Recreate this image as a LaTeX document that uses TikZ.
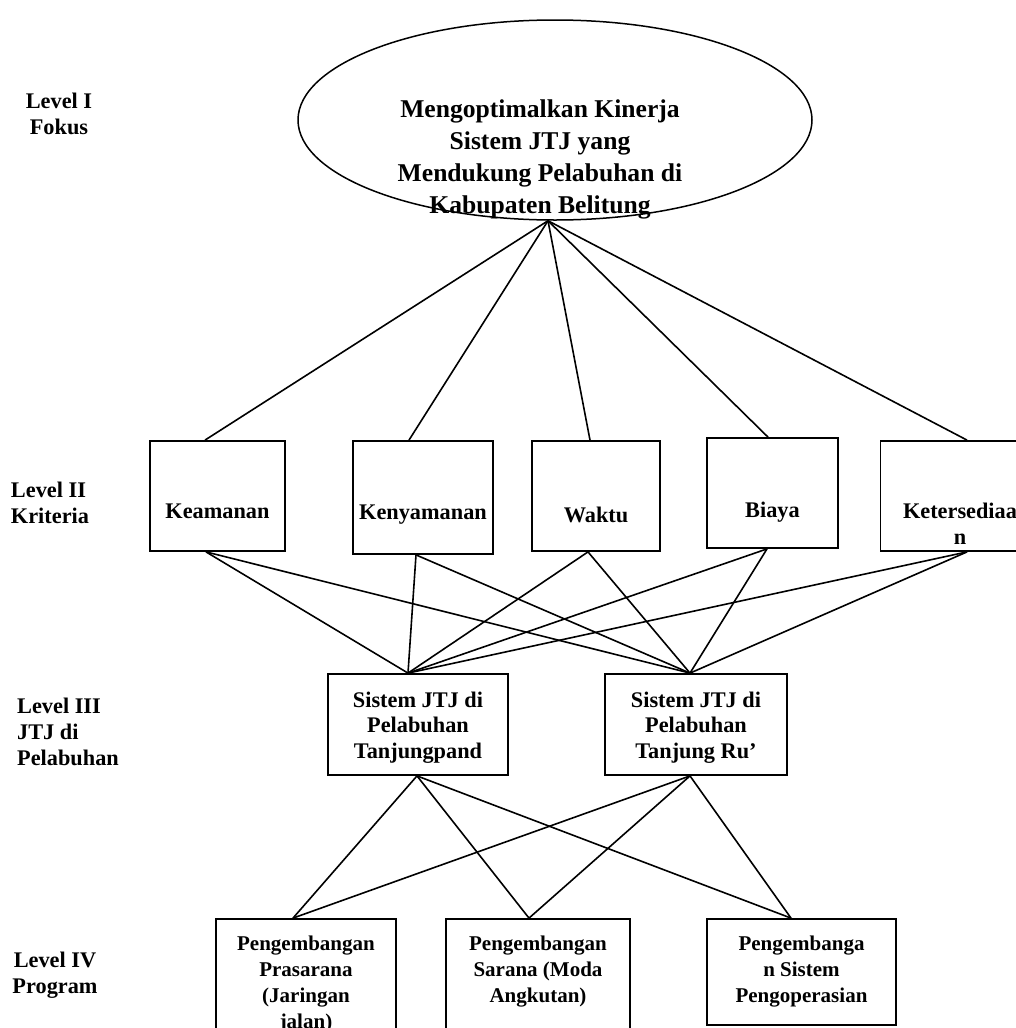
\documentclass[tikz,border=0pt]{standalone}
\usepackage{fontspec}
\setmainfont{Liberation Serif}
\usetikzlibrary{shapes.geometric}

\begin{document}
\begin{tikzpicture}[x=1pt, y=-1pt,
	lvl/.style={font=\fontsize{22.3}{26}\selectfont\bfseries, inner sep=0pt, anchor=base},
	kotak/.style={draw, line width=1.8pt, inner sep=0pt, anchor=base, align=center, font=\fontsize{22.3}{25.5}\selectfont\bfseries},
	kotakb/.style={kotak, font=\fontsize{21}{26}\selectfont\bfseries},
	garis/.style={line width=1.6pt}]
	\useasboundingbox (0,0) rectangle (1016,1028);
	\clip (0,0) rectangle (1016,1028);

	% level labels
	\node[lvl, align=center] (lv1) at (59,134) {Level I\\Fokus};
	\node[lvl, align=left] (lv2) at (50,523) {Level II\\Kriteria};
	\node[lvl, align=left] (lv3) at (68,765) {Level III\\JTJ di\\Pelabuhan};
	\node[lvl, align=center] (lv4) at (55,993) {Level IV\\Program};

	% fokus
	\node[draw, ellipse, line width=1.5pt, minimum width=514pt, minimum height=200pt, inner sep=0pt] (goal) at (555,120) {};
	\node[anchor=base, align=center, inner sep=0pt, font=\fontsize{25.6}{32}\selectfont\bfseries] (goaltext) at (540,213)
		{Mengoptimalkan Kinerja\\Sistem JTJ yang\\Mendukung Pelabuhan di\\Kabupaten Belitung};
	\coordinate (apex) at ([xshift=-7pt]goal.south);

	% kriteria
	\node[kotak, minimum width=135pt, text height=77pt, text depth=33pt] (kea) at (217.5,518) {Keamanan};
	\node[kotak, minimum width=140pt, text height=78pt, text depth=35pt] (kny) at (423,519) {Kenyamanan};
	\node[kotak, minimum width=128pt, text height=81pt, text depth=29pt] (wkt) at (596,522) {Waktu};
	\node[kotak, minimum width=131pt, text height=79pt, text depth=31pt] (bia) at (772.5,517) {Biaya};
	\node[kotak, minimum width=159pt, text height=103pt, text depth=7pt] (ket) at (960,544) {Ketersediaa\\n};

	% JTJ di pelabuhan
	\node[kotak, minimum width=180pt, text height=84pt, text depth=17pt] (sa) at (418,758) {Sistem JTJ di\\Pelabuhan\\Tanjungpand};
	\node[kotak, minimum width=182pt, text height=84pt, text depth=17pt] (sb) at (696,758) {Sistem JTJ di\\Pelabuhan\\Tanjung Ru’};

	% program
	\node[kotakb, minimum width=180pt, text height=109pt, text depth=22pt] (pa) at (306,1028) {Pengembangan\\Prasarana\\(Jaringan\\jalan)};
	\node[kotakb, minimum width=184pt, text height=83pt, text depth=48pt] (pb) at (538,1002) {Pengembangan\\Sarana (Moda\\Angkutan)};
	\node[kotakb, minimum width=189pt, text height=83pt, text depth=23pt] (pc) at (801.5,1002) {Pengembanga\\n Sistem\\Pengoperasian};

	\foreach \n/\a in {kea/-12.5, kny/-14, wkt/-6, bia/-4.5, ket/7}
		\draw[garis] (apex) -- ([xshift=\a pt]\n.north);

	\foreach \n/\b in {kea/-11.5, kny/-7, wkt/-8, bia/-5.5, ket/7}{
		\draw[garis] ([xshift=\b pt]\n.south) -- ([xshift=-10pt]sa.north);
		\draw[garis] ([xshift=\b pt]\n.south) -- ([xshift=-6pt]sb.north);
	}

	\foreach \s/\c in {sa/-1, sb/-6}
		\foreach \p/\d in {pa/-13, pb/-9, pc/-10.5}
			\draw[garis] ([xshift=\c pt]\s.south) -- ([xshift=\d pt]\p.north);
\end{tikzpicture}
\end{document}
